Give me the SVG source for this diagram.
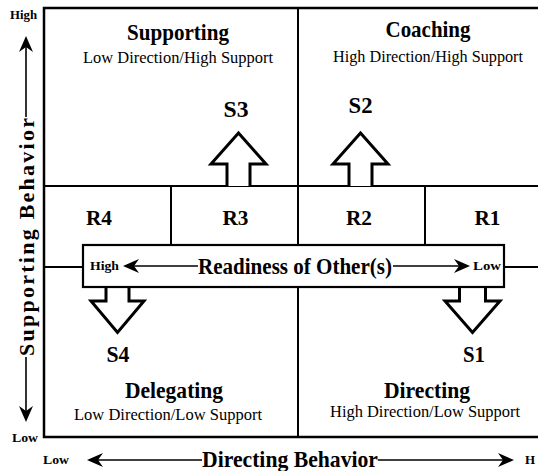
<svg xmlns="http://www.w3.org/2000/svg" width="538" height="471" viewBox="0 0 538 471" font-family="'Liberation Serif', Tinos, 'Times New Roman', Times, serif">
<style>
.ln{stroke:#000;stroke-width:2;fill:none}
.frame{stroke:#000;stroke-width:2.5;fill:none}
.arr{stroke:#000;stroke-width:1.6;fill:none;marker-end:url(#ah)}
.blk{stroke:#000;stroke-width:3;fill:#fff;stroke-linejoin:miter;stroke-miterlimit:10}
.t{font-weight:bold;font-size:23px;text-anchor:middle}
.sub{font-size:17px;text-anchor:middle}
.s{font-weight:bold;font-size:23px;text-anchor:middle}
.r{font-weight:bold;font-size:21px;text-anchor:middle}
.sm{font-weight:bold;font-size:13px}
.ax{font-weight:bold;font-size:23px}
</style>
<defs>
<marker id="ah" markerUnits="userSpaceOnUse" markerWidth="16" markerHeight="14" viewBox="0 0 16 14" refX="5" refY="7" orient="auto">
<path d="M0,0 L16,7 L0,14 L5,7 Z" fill="#000"/>
</marker>
</defs>
<rect width="538" height="471" fill="#fff"/>

<g id="grid">
<path class="frame" d="M538,8 H44 V437 H538"/>
<path class="ln" d="M44,186 H538 M298,8 V245 M171,186 V245 M425,186 V245 M44,267 H83 M504,267 H538 M298,287 V437"/>
</g>

<g id="supporting">
<text class="t" x="178" y="40" textLength="102" lengthAdjust="spacingAndGlyphs">Supporting</text>
<text class="sub" x="178" y="63" textLength="190" lengthAdjust="spacingAndGlyphs">Low Direction/High Support</text>
</g>
<g id="coaching">
<text class="t" x="428" y="37" textLength="85" lengthAdjust="spacingAndGlyphs">Coaching</text>
<text class="sub" x="428" y="62" textLength="190" lengthAdjust="spacingAndGlyphs">High Direction/High Support</text>
</g>
<g id="delegating">
<text class="t" x="174" y="398" textLength="98" lengthAdjust="spacingAndGlyphs">Delegating</text>
<text class="sub" x="168" y="420" textLength="188" lengthAdjust="spacingAndGlyphs">Low Direction/Low Support</text>
</g>
<g id="directing">
<text class="t" x="427" y="398" textLength="86" lengthAdjust="spacingAndGlyphs">Directing</text>
<text class="sub" x="425" y="417" textLength="190" lengthAdjust="spacingAndGlyphs">High Direction/Low Support</text>
</g>

<g id="r4"><text class="r" x="99" y="225" textLength="26" lengthAdjust="spacingAndGlyphs">R4</text></g>
<g id="r3"><text class="r" x="235.5" y="225" textLength="26" lengthAdjust="spacingAndGlyphs">R3</text></g>
<g id="r2"><text class="r" x="359" y="225" textLength="26" lengthAdjust="spacingAndGlyphs">R2</text></g>
<g id="r1"><text class="r" x="487.5" y="225" textLength="26" lengthAdjust="spacingAndGlyphs">R1</text></g>

<g id="s3">
<path class="blk" d="M227,186 V164 H211 L238.5,133 L266,164 H250 V186"/>
<text class="s" x="236" y="117" textLength="25" lengthAdjust="spacingAndGlyphs">S3</text>
</g>
<g id="s2">
<path class="blk" d="M349,186 V164 H333 L360.5,133 L388,164 H372 V186"/>
<text class="s" x="360.5" y="113" textLength="24" lengthAdjust="spacingAndGlyphs">S2</text>
</g>
<g id="s4">
<path class="blk" d="M106,287 V301 H91 L117.5,332.5 L144,301 H129 V287"/>
<text class="s" x="118" y="362" textLength="23" lengthAdjust="spacingAndGlyphs">S4</text>
</g>
<g id="s1">
<path class="blk" d="M459.5,287 V301 H445 L472.5,332.5 L500,301 H485.5 V287"/>
<text class="s" x="474" y="362" textLength="22" lengthAdjust="spacingAndGlyphs">S1</text>
</g>

<g id="readiness">
<rect x="83" y="245" width="421" height="42" fill="#fff" stroke="#000" stroke-width="2.2"/>
<text class="sm" x="90" y="270" textLength="29" lengthAdjust="spacingAndGlyphs">High</text>
<text class="ax" x="198" y="274" textLength="194" lengthAdjust="spacingAndGlyphs">Readiness of Other(s)</text>
<text class="sm" x="473" y="270" textLength="28" lengthAdjust="spacingAndGlyphs">Low</text>
</g>

<g id="axis-labels">
<text class="sm" x="10" y="19" font-size="12" textLength="27" lengthAdjust="spacingAndGlyphs">High</text>
<text class="sm" x="12" y="442" font-size="12" textLength="26" lengthAdjust="spacingAndGlyphs">Low</text>
<text font-weight="bold" font-size="22" text-anchor="middle" textLength="238" lengthAdjust="spacing" transform="translate(34,237) rotate(-90)">Supporting Behavior</text>
<text class="sm" x="43" y="464" textLength="26" lengthAdjust="spacingAndGlyphs">Low</text>
<text class="ax" x="202" y="467" textLength="176" lengthAdjust="spacingAndGlyphs">Directing Behavior</text>
<text class="sm" x="525" y="464">H</text>
</g>

<g id="connectors">
<line class="arr" x1="198" y1="266" x2="134" y2="266"/>
<line class="arr" x1="393" y1="266" x2="459" y2="266"/>
<line class="arr" x1="26" y1="117" x2="26" y2="47"/>
<line class="arr" x1="26" y1="357" x2="26" y2="411"/>
<line class="arr" x1="202" y1="460" x2="98" y2="460"/>
<line class="arr" x1="378" y1="460" x2="503" y2="460"/>
</g>
</svg>
